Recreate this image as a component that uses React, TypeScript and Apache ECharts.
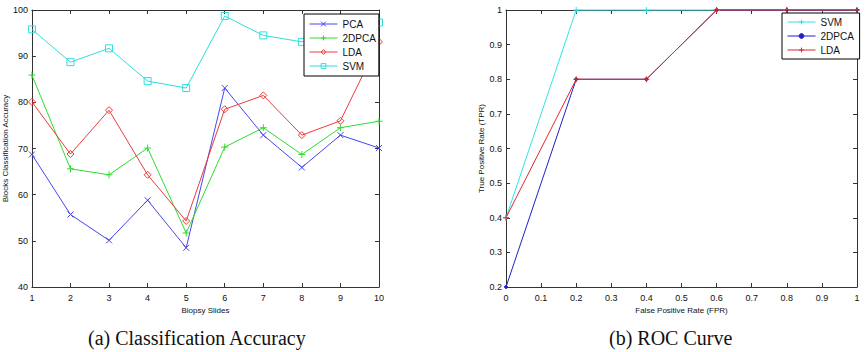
import React, { useEffect, useRef } from "react";
import * as echarts from "echarts";

const slides = [1, 2, 3, 4, 5, 6, 7, 8, 9, 10];
const pcaAcc = [68.7, 55.7, 50.1, 58.8, 48.5, 83.1, 72.9, 65.9, 72.9, 70.1];
const dpcaAcc = [85.9, 65.6, 64.3, 70.1, 51.7, 70.3, 74.5, 68.7, 74.5, 75.9];
const ldaAcc = [80.1, 68.8, 78.3, 64.3, 54.3, 78.5, 81.5, 72.9, 76.0, 93.1];
const svmAcc = [95.8, 88.7, 91.7, 84.6, 83.1, 98.7, 94.5, 93.1, 95.0, 97.3];

const fpr = [0, 0.2, 0.4, 0.6, 0.8, 1];
const svmTpr = [0.4, 1, 1, 1, 1, 1];
const dpcaTpr = [0.2, 0.8, 0.8, 1, 1, 1];
const ldaTpr = [0.4, 0.8, 0.8, 1, 1, 1];

const X_SYM = "path://M0,0L10,10M10,0L0,10";
const PLUS_SYM = "path://M5,0L5,10M0,5L10,5";

const AX = "#333";
const FONT = "Liberation Sans, Arial, sans-serif";
const SERIF = "Liberation Serif, Times New Roman, serif";

function mkSeries(name: string, xs: number[], ys: number[], color: string, symbol: string, size: number, xi: number, filled = false) {
  return {
    type: "line",
    name,
    xAxisIndex: xi,
    yAxisIndex: xi,
    data: xs.map((x, i) => [x, ys[i]]),
    color,
    symbol,
    symbolSize: size,
    showSymbol: true,
    clip: false,
    lineStyle: { color, width: 1 },
    itemStyle: filled
      ? { color, borderColor: color, borderWidth: 1 }
      : { color: "rgba(0,0,0,0)", borderColor: color, borderWidth: 1 },
    emphasis: { disabled: true },
  };
}

function valueAxis(gridIndex: number, min: number, max: number, interval: number, position: string, showLabel: boolean, name?: string, nameGap?: number) {
  const isY = position === "left" || position === "right";
  return {
    type: "value",
    gridIndex,
    min,
    max,
    interval,
    position,
    name: name || "",
    nameLocation: "middle",
    nameGap: nameGap || 0,
    nameTextStyle: { fontSize: 8, color: "#111", fontFamily: FONT },
    axisLine: { show: true, onZero: false, lineStyle: { color: AX, width: 1 } },
    axisTick: { show: true, inside: true, length: 4, lineStyle: { color: AX } },
    axisLabel: {
      show: showLabel,
      fontSize: 9,
      color: "#111",
      fontFamily: FONT,
      margin: isY ? 4 : 6,
    },
    splitLine: { show: false },
  };
}

export default function App() {
  const ref = useRef<HTMLDivElement>(null);
  useEffect(() => {
    if (!ref.current) return;
    const chart = echarts.init(ref.current, undefined, { renderer: "svg" });
    const legendCommon = {
      orient: "vertical",
      backgroundColor: "#fff",
      borderColor: "#000",
      borderWidth: 1,
      borderRadius: 0,
      itemWidth: 28,
      itemHeight: 6,
      itemGap: 4,
      itemStyle: { borderWidth: 1 },
      lineStyle: { width: 1 },
      textStyle: { fontSize: 10, color: "#111", fontFamily: FONT },
      selectedMode: false,
    };
    chart.setOption({
      animation: false,
      backgroundColor: "#fff",
      grid: [
        { left: 29, top: 10, width: 350, height: 277 },
        { left: 506, top: 10, width: 351, height: 277 },
      ],
      xAxis: [
        valueAxis(0, 1, 10, 1, "bottom", true, "Biopsy Slides", 17),
        valueAxis(1, 0, 1, 0.1, "bottom", true, "False Positive Rate (FPR)", 17),
        valueAxis(0, 1, 10, 1, "top", false),
        valueAxis(1, 0, 1, 0.1, "top", false),
      ],
      yAxis: [
        valueAxis(0, 40, 100, 10, "left", true, "Blocks Classification Accuracy", 21),
        valueAxis(1, 0.2, 1, 0.1, "left", true, "True Positive Rate (TPR)", 21),
        valueAxis(0, 40, 100, 10, "right", false),
        valueAxis(1, 0.2, 1, 0.1, "right", false),
      ],
      legend: [
        {
          ...legendCommon,
          left: 304,
          top: 14,
          padding: [5, 3, 5, 5],
          data: ["PCA", "2DPCA", "LDA", "SVM"],
        },
        {
          ...legendCommon,
          left: 782,
          top: 13,
          padding: [4, 3, 4, 5],
          data: ["SVM ", "2DPCA ", "LDA "],
        },
      ],
      series: [
        mkSeries("PCA", slides, pcaAcc, "#4646f0", X_SYM, 6, 0),
        mkSeries("2DPCA", slides, dpcaAcc, "#2fdc2f", PLUS_SYM, 7, 0),
        mkSeries("LDA", slides, ldaAcc, "#ee3b3b", "diamond", 7, 0),
        mkSeries("SVM", slides, svmAcc, "#30dede", "rect", 7, 0),
        mkSeries("SVM ", fpr, svmTpr, "#2ee6e6", PLUS_SYM, 6, 1),
        mkSeries("2DPCA ", fpr, dpcaTpr, "#2020c8", "circle", 3, 1, true),
        mkSeries("LDA ", fpr, ldaTpr, "#e02a2a", PLUS_SYM, 6, 1),
      ],
      graphic: [
        {
          type: "text",
          left: 88,
          top: 328,
          style: { text: "(a) Classification Accuracy", fontSize: 20, fontFamily: SERIF, fill: "#111" },
        },
        {
          type: "text",
          left: 609,
          top: 328,
          style: { text: "(b) ROC Curve", fontSize: 20, fontFamily: SERIF, fill: "#111" },
        },
      ],
    });
    return () => chart.dispose();
  }, []);
  return <div ref={ref} style={{ position: "fixed", left: 0, top: 0, width: 866, height: 352 }} />;
}
